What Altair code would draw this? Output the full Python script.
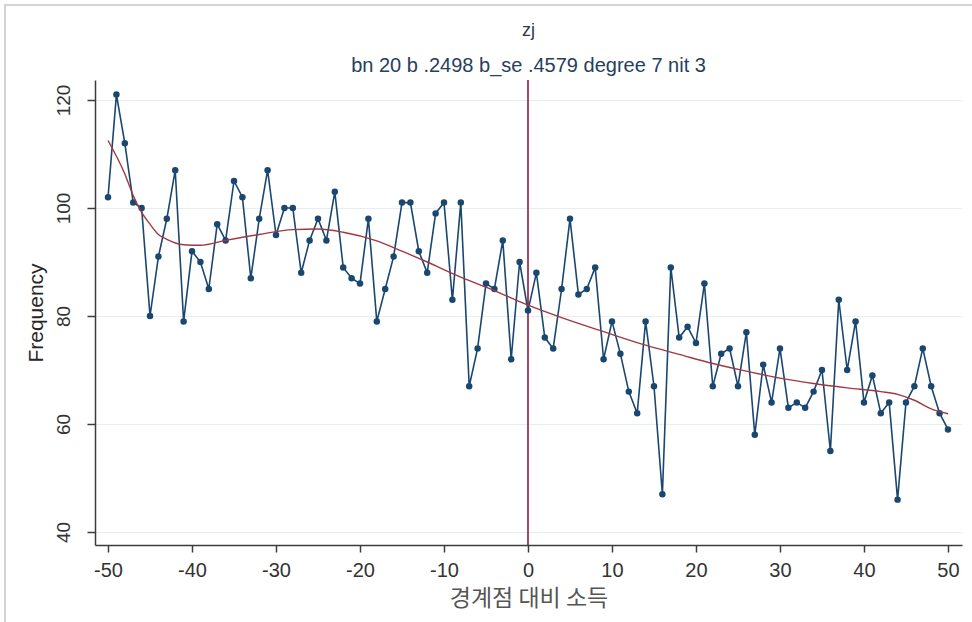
import altair as alt
import pandas as pd

# Bin centres (income relative to the threshold) and counts per bin
bins = list(range(-50, 51))
counts = [
    102, 121, 112, 101, 100, 80, 91, 98, 107, 79,      # -50 .. -41
    92, 90, 85, 97, 94, 105, 102, 87, 98, 107,         # -40 .. -31
    95, 100, 100, 88, 94, 98, 94, 103, 89, 87,         # -30 .. -21
    86, 98, 79, 85, 91, 101, 101, 92, 88, 99,          # -20 .. -11
    101, 83, 101, 67, 74, 86, 85, 94, 72, 90,          # -10 .. -1
    81,                                                # 0
    88, 76, 74, 85, 98, 84, 85, 89, 72, 79,            # 1 .. 10
    73, 66, 62, 79, 67, 47, 89, 76, 78, 75,            # 11 .. 20
    86, 67, 73, 74, 67, 77, 58, 71, 64, 74,            # 21 .. 30
    63, 64, 63, 66, 70, 55, 83, 70, 79, 64,            # 31 .. 40
    69, 62, 64, 46, 64, 67, 74, 67, 62, 59,            # 41 .. 50
]

# Polynomial counterfactual density (degree 7)
fit_bins = [-50, -48, -47, -46, -45, -44, -43, -41, -39, -36, -32, -28, -25,
            -22, -18, -15, -12, -8, -4, 0, 4, 9, 14, 18, 22, 26, 30, 34, 38,
            42, 44, 46, 48, 50]
fit_counts = [112.5, 106.3, 102.3, 99.2, 97.0, 95.1, 94.2, 93.2, 93.1, 94.0,
              95.1, 96.0, 96.1, 95.5, 93.9, 92.0, 90.0, 87.2, 84.7, 82.0, 79.7,
              77.1, 74.6, 72.9, 71.2, 69.8, 68.5, 67.5, 66.7, 66.0, 65.5, 64.4,
              62.8, 61.9]

x_ticks = list(range(-50, 51, 10))
y_ticks = [40, 60, 80, 100, 120]
cutoff = 0

title_text = ["zj"]
subtitle_text = ["bn 20 b .2498 b_se .4579 degree 7 nit 3"]

NAVY = "#1a476f"
MAROON = "#a0393f"
CUTOFF_RED = "#8e1c44"
AXIS_GREY = "#3c3c3c"

W, H = 867, 465

obs = pd.DataFrame({"bin": bins, "freq": counts})
fit = pd.DataFrame({"bin": fit_bins, "freq": fit_counts})

x_scale = alt.Scale(domain=[-51.55, 51.67], nice=False, zero=False)
y_scale = alt.Scale(domain=[37.6, 123.7], nice=False, zero=False)

# plain hyphen for negative tick labels
hyphen = "replace(datum.label, '\u2212', '-')"

x_axis = alt.Axis(
    values=x_ticks, title="경계점 대비 소득", grid=False,
    labelExpr=hyphen, labelFontSize=20, labelPadding=8, tickSize=7,
    titleFont="Noto Sans CJK KR", titleFontSize=23, titleFontWeight="normal",
    titleColor="#555555", titlePadding=7,
)
y_axis = alt.Axis(
    values=y_ticks, title="Frequency", grid=True,
    labelAngle=270, labelAlign="center", labelBaseline="bottom",
    labelFontSize=19, labelPadding=14, tickSize=8,
    titleFont="Liberation Sans", titleFontSize=21, titleFontWeight="normal",
    titleColor="#262626", titlePadding=8,
)

cut_rule = alt.Chart(pd.DataFrame({"bin": [cutoff]})).mark_rule(
    color=CUTOFF_RED, strokeWidth=1.6
).encode(x=alt.X("bin:Q", scale=x_scale, axis=x_axis))

obs_line = alt.Chart(obs).mark_line(color=NAVY, strokeWidth=1.6).encode(
    x=alt.X("bin:Q", scale=x_scale, axis=x_axis),
    y=alt.Y("freq:Q", scale=y_scale, axis=y_axis),
)
obs_dots = alt.Chart(obs).mark_circle(color=NAVY, size=42, opacity=1).encode(
    x=alt.X("bin:Q", scale=x_scale),
    y=alt.Y("freq:Q", scale=y_scale),
)
fit_line = alt.Chart(fit).mark_line(
    color=MAROON, strokeWidth=1.4, interpolate="monotone"
).encode(
    x=alt.X("bin:Q", scale=x_scale),
    y=alt.Y("freq:Q", scale=y_scale),
)

# Heading lines centred over the plot area
title_mark = alt.Chart(pd.DataFrame({"t": title_text})).mark_text(
    font="Liberation Sans", fontSize=18, color="#2f3a48", align="center",
    baseline="middle",
).encode(text="t:N", x=alt.value(W / 2), y=alt.value(-49))
subtitle_mark = alt.Chart(pd.DataFrame({"t": subtitle_text})).mark_text(
    font="Liberation Sans", fontSize=20, color="#26405e", align="center",
    baseline="middle",
).encode(text="t:N", x=alt.value(W / 2), y=alt.value(-14))

# Thin grey frame along the top and left edges of the figure
frame_top = alt.Chart(pd.DataFrame({"k": [0]})).mark_rule(
    color="#d3d3d3", strokeWidth=2
).encode(x=alt.value(-90), x2=alt.value(877), y=alt.value(-75))
frame_left = alt.Chart(pd.DataFrame({"k": [0]})).mark_rule(
    color="#d3d3d3", strokeWidth=2
).encode(x=alt.value(-90), y=alt.value(-76), y2=alt.value(542))

chart = alt.layer(
    cut_rule, obs_line, obs_dots, fit_line,
    title_mark, subtitle_mark, frame_top, frame_left,
).properties(
    width=W,
    height=H,
    autosize=alt.AutoSizeParams(type="none"),
    padding={"left": 95, "top": 80, "right": 10, "bottom": 77},
).configure_view(
    stroke=None
).configure_axis(
    domainColor=AXIS_GREY, domainWidth=1.5,
    tickColor=AXIS_GREY, tickWidth=1.5,
    labelColor="#333333", labelFont="Liberation Sans",
    gridColor="#e6eef0", gridWidth=1,
)

chart.save("out.html", embed_options={"renderer": "svg", "actions": False})
